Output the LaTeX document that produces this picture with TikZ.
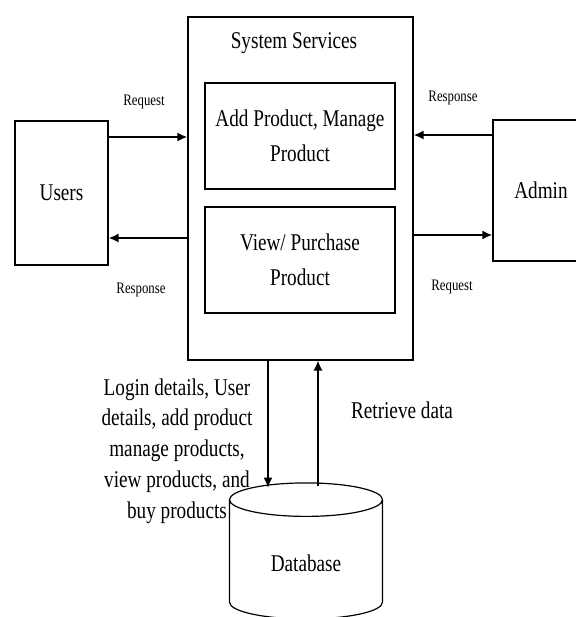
\documentclass[tikz,border=0pt]{standalone}
\usepackage{fontspec}
\setmainfont[FakeStretch=0.8]{Liberation Serif}
\usetikzlibrary{arrows.meta,positioning,shapes.geometric}

\begin{document}
\begin{tikzpicture}[x=0.5pt,y=-0.5pt]
  \tikzset{box/.style = {shape=rectangle,draw,line width=0.6pt,align=center,font=\fontsize{12}{17.5}\selectfont,inner sep=0pt}}
  \tikzset{dbase/.style = {shape=cylinder,draw,line width=0.6pt,shape border rotate=90,aspect=0.4,minimum width=76.5pt,minimum height=68pt,font=\fontsize{12}{15}\selectfont}}
  \tikzset{lbl/.style = {font=\fontsize{8}{10}\selectfont,inner sep=0pt}}
  \tikzset{txt/.style = {font=\fontsize{12}{15.4}\selectfont,align=center,inner sep=0pt}}
  \tikzset{edge/.style = {-{Latex[length=5pt,width=4.5pt]},line width=0.6pt}}
  \tikzset{hedge/.style = {edge,line width=0.9pt}}

  \useasboundingbox (0,0) rectangle (576,617);

	\node[box,minimum width=112.5pt,minimum height=171.5pt] (sys) at (300.5,188.5) {};
	\node[txt] (systitle) at (294,43) {System Services};
	\node[box,minimum width=95pt,minimum height=53pt] (addprod) at (300,136) {Add Product, Manage\\Product};
	\node[box,minimum width=95pt,minimum height=53pt] (viewprod) at (300,260) {View/ Purchase\\Product};

	\node[box,minimum width=46.5pt,minimum height=72pt] (users) at (61.5,193) {Users};
	\node[box,minimum width=48pt,minimum height=70.5pt] (admin) at (541,190.5) {Admin};

	\node[dbase] (db) at (306,563) {Database};

	\node[lbl] (ureq) at (144,102) {Request};
	\node[lbl] (ures) at (141,290) {Response};
	\node[lbl] (ares) at (453,98) {Response};
	\node[lbl] (areq) at (452,287) {Request};

	\node[txt] (dbin-txt) at (177,451) {Login details, User\\details, add product\\manage products,\\view products, and\\buy products};
	\node[txt] (dbout-txt) at (402,410) {Retrieve data};

	\coordinate (y1) at (0,137);
	\coordinate (y2) at (0,238);
	\coordinate (y3) at (0,135);
	\coordinate (y4) at (0,235);
	\coordinate (dbin) at (268,487.5);
	\coordinate (dbout) at (318,486);

    \foreach \from/\to/\y in {users.east/sys.west/y1, sys.west/users.east/y2, admin.west/sys.east/y3, sys.east/admin.west/y4}
    \path[hedge] (\from |- \y) edge (\to |- \y);

	\draw[edge] (sys.south -| dbin) -- (dbin);
	\draw[edge] (dbout) -- (sys.south -| dbout);

\end{tikzpicture}
\end{document}
